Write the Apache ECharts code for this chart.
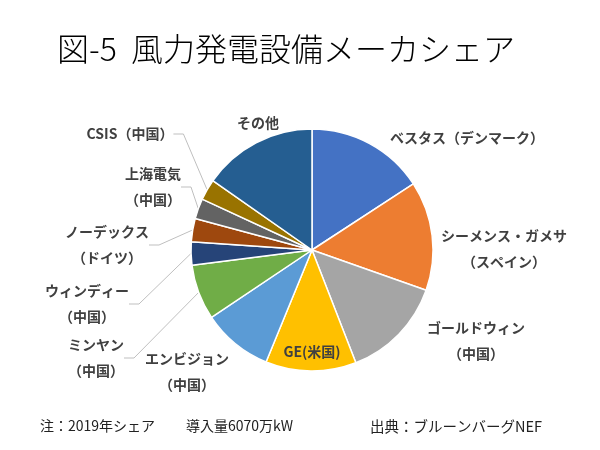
<!DOCTYPE html>
<html>
<head>
<meta charset="utf-8">
<script src="https://cdn.jsdelivr.net/npm/echarts@6/dist/echarts.min.js"></script>
<style>
    html, body { margin: 0; padding: 0; background: #fff; }
    #chart { width: 600px; height: 450px; }
</style>
</head>
<body>
<div id="chart"></div>
<script>
// メーカ名とシェア(%)
let makers = ['ベスタス（デンマーク）', 'シーメンス・ガメサ\n（スペイン）', 'ゴールドウィン\n（中国）', 'GE(米国)',
    'エンビジョン\n（中国）', 'ミンヤン\n（中国）', 'ウィンディー\n（中国）', 'ノーデックス\n（ドイツ）',
    '上海電気\n（中国）', 'CSIS（中国）', 'その他'];
let shares = [15.8, 14.6, 13.7, 12.1, 9.4, 7.4, 3.1, 3.1, 2.7, 2.8, 15.3];
let colors = ['#4472C4', '#ED7D31', '#A5A5A5', '#FFC000', '#5B9BD5', '#70AD47',
    '#264478', '#9E480E', '#636363', '#997300', '#255E91'];
let hasLine = [false, false, false, false, false, true, true, true, true, true, false];

// ラベルの位置（中心）
let labelPos = [[467, 138], [504, 249], [476, 341], [312, 352], [187, 372],
    [96, 358], [87, 304], [107, 245], [153, 187], [130, 134], [258, 123]];

let font = '"Noto Sans CJK JP", "Noto Sans", sans-serif';
let myChart = echarts.init(document.getElementById('chart'));

let pieData = makers.map(function (name, i) {
    return {
        name: name,
        value: shares[i],
        itemStyle: {color: colors[i]},
        labelLine: {show: hasLine[i]}
    };
});

let option = {
    animation: false,
    title: {
        text: '図-5  風力発電設備メーカシェア',
        left: 52,
        top: 28,
        textStyle: {
            fontFamily: font,
            fontSize: 32,
            fontWeight: 300,
            color: '#000'
        }
    },
    graphic: [
        {
            type: 'text',
            left: 40,
            top: 419,
            style: {
                text: '注：2019年シェア',
                font: '14px ' + font,
                fill: '#222'
            }
        },
        {
            type: 'text',
            left: 186,
            top: 419,
            style: {
                text: '導入量6070万kW',
                font: '14px ' + font,
                fill: '#222'
            }
        },
        {
            type: 'text',
            left: 370,
            top: 419,
            style: {
                text: '出典：ブルーンバーグNEF',
                font: '14.5px ' + font,
                fill: '#222'
            }
        }
    ],
    series: [
        {
            type: 'pie',
            radius: 121,
            center: [312, 250],
            startAngle: 90,
            clockwise: true,
            itemStyle: {borderColor: '#fff', borderWidth: 1.5},
            label: {
                show: true,
                position: 'outside',
                fontFamily: font,
                fontSize: 14,
                fontWeight: 'bold',
                color: '#404040',
                lineHeight: 26,
                align: 'center'
            },
            labelLine: {
                show: true,
                length: 10,
                length2: 10,
                lineStyle: {color: '#BFBFBF', width: 1}
            },
            labelLayout: function (params) {
                let p = labelPos[params.dataIndex];
                return {x: p[0], y: p[1], align: 'center', verticalAlign: 'middle'};
            },
            data: pieData
        }
    ]
};
myChart.setOption(option);
</script>
</body>
</html>
